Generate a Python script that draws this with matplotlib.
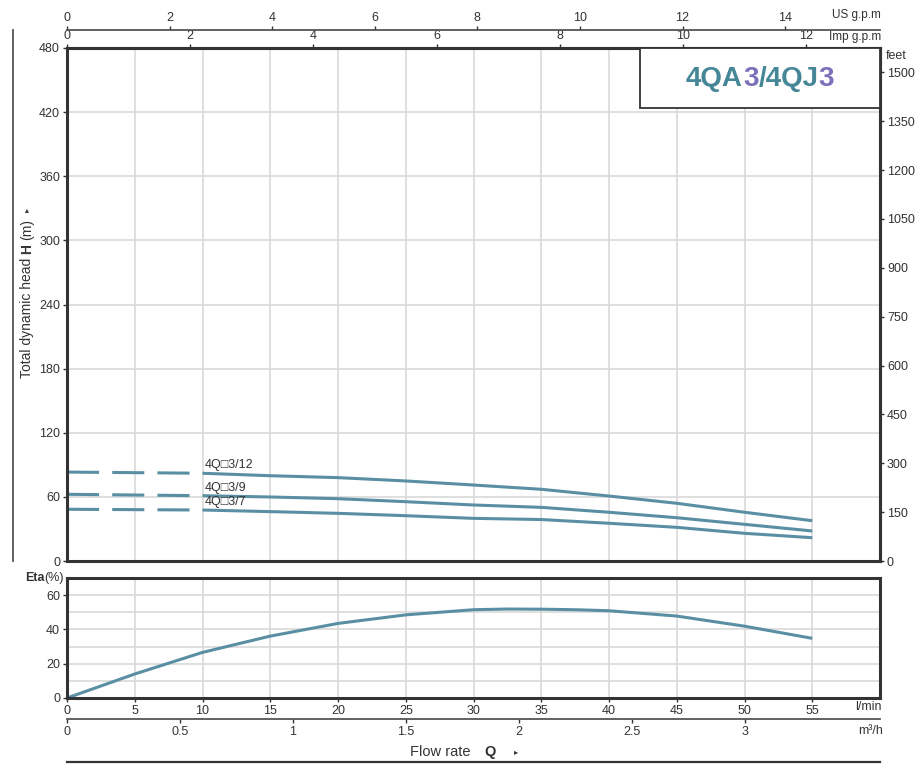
import matplotlib
matplotlib.use("Agg")
import matplotlib.pyplot as plt
from matplotlib.patches import Rectangle
from matplotlib.lines import Line2D
from matplotlib import font_manager as fm

# ---------------- data ----------------
flow_lmin = [10, 15, 20, 25, 30, 35, 40, 45, 50, 55]
head_12 = [82.1, 79.8, 78.0, 74.9, 71.1, 67.1, 60.8, 54.0, 45.6, 37.7]
head_9 = [61.1, 59.9, 58.3, 55.5, 52.4, 50.2, 45.6, 40.5, 34.3, 28.1]
head_7 = [47.7, 46.2, 44.6, 42.4, 39.9, 38.8, 35.3, 31.5, 25.9, 21.8]
dash_flow = [0, 10]
dash_12 = [83.2, 82.1]
dash_9 = [62.4, 61.1]
dash_7 = [48.4, 47.7]
curve_labels = ["4Q\u25a13/12", "4Q\u25a13/9", "4Q\u25a13/7"]

eta_flow = [0, 5, 10, 15, 20, 25, 30, 32.5, 35, 37.5, 40, 45, 50, 55]
eta_vals = [0, 14.0, 26.6, 36.1, 43.5, 48.5, 51.5, 51.9, 51.8, 51.5, 50.9, 47.8, 41.9, 34.8]

head_ticks = [0, 60, 120, 180, 240, 300, 360, 420, 480]
feet_ticks = [0, 150, 300, 450, 600, 750, 900, 1050, 1200, 1350, 1500]
eta_ticks = [0, 20, 40, 60]
lmin_ticks = [0, 5, 10, 15, 20, 25, 30, 35, 40, 45, 50, 55]
m3h_ticks = [0, 0.5, 1, 1.5, 2, 2.5, 3]
m3h_labels = ["0", "0.5", "1", "1.5", "2", "2.5", "3"]
usgpm_ticks = [0, 2, 4, 6, 8, 10, 12, 14]
impgpm_ticks = [0, 2, 4, 6, 8, 10, 12]

# ---------------- style ----------------
names = {f.name for f in fm.fontManager.ttflist}
BASE = "Liberation Sans" if "Liberation Sans" in names else "DejaVu Sans"
plt.rcParams["font.family"] = [BASE, "DejaVu Sans"]
TXT = "#333333"
SPINE = "#333333"
GRID = "#d9d9d9"
CURVE = "#5a8fa3"
TEAL = "#468797"
PURPLE = "#7b70b9"
FS = 9

W, H = 921, 767
fig = plt.figure(figsize=(W / 100, H / 100), dpi=100)

def fx(px):
    return px / W

def fy(py):
    return 1 - py / H

L, R = 67, 880
ax = fig.add_axes([fx(L), fy(561), fx(R - L), fy(48) - fy(561)])
ax2 = fig.add_axes([fx(L), fy(698), fx(R - L), fy(578) - fy(698)])

for a in (ax, ax2):
    for s in a.spines.values():
        s.set_color(SPINE)
        s.set_linewidth(2.2)
    a.set_xlim(0, 60)
    a.tick_params(colors=TXT, labelcolor=TXT, length=3, width=1, labelsize=FS, pad=2)
    a.set_axisbelow(True)

# main head chart
ax.set_ylim(0, 480)
ax.set_yticks(head_ticks)
ax.set_xticks(lmin_ticks)
ax.tick_params(axis="x", bottom=False, labelbottom=False)
ax.grid(True, color=GRID, linewidth=1.2)

for dv, hv in ((dash_12, head_12), (dash_9, head_9), (dash_7, head_7)):
    ax.plot(dash_flow, dv, color=CURVE, lw=2.2, dashes=(10.5, 4.3), dash_capstyle="butt")
    ax.plot(flow_lmin, hv, color=CURVE, lw=2.2, solid_capstyle="butt")

for lab, hv in zip(curve_labels, (head_12, head_9, head_7)):
    ax.text(flow_lmin[0] + 0.15, hv[0] + 1.8, lab, fontsize=FS, color=TXT, ha="left", va="bottom",
            family=[BASE, "DejaVu Sans"])

# title box
ax.add_patch(Rectangle((42.3, 424), 60 - 42.3, 480 - 424, facecolor="white", edgecolor=SPINE, lw=1.3,
                       zorder=5, clip_on=False))
parts = [("4QA", TEAL), ("3", PURPLE), ("/4QJ", TEAL), ("3", PURPLE)]
last = None
for txt, col in parts:
    if last is None:
        last = fig.text(fx(686), fy(79), txt, color=col, fontsize=20, weight="bold",
                        ha="left", va="center", zorder=6)
    else:
        last = ax.annotate(txt, xy=(1, 0.5), xycoords=last, color=col, fontsize=20, weight="bold",
                           ha="left", va="center", zorder=6, annotation_clip=False)

# secondary axes: feet and Imp gpm
m2ft = 1 / 0.3048
sec_r = ax.secondary_yaxis("right", functions=(lambda m: m * m2ft, lambda f: f / m2ft))
sec_r.set_yticks(feet_ticks)
sec_r.tick_params(colors=TXT, labelcolor=TXT, length=3, width=1, labelsize=FS, pad=2)
sec_r.spines["right"].set_color(SPINE)
sec_r.spines["right"].set_linewidth(2.2)
fig.text(fx(886), fy(56), "feet", fontsize=FS, color=TXT, ha="left", va="center")

imp = 4.54609
sec_t = ax.secondary_xaxis("top", functions=(lambda q: q / imp, lambda g: g * imp))
sec_t.set_xticks(impgpm_ticks)
sec_t.tick_params(colors=TXT, labelcolor=TXT, length=3, width=1, labelsize=FS, pad=1)
sec_t.spines["top"].set_color(SPINE)
sec_t.spines["top"].set_linewidth(2.2)
fig.text(fx(881), fy(37), "Imp g.p.m", fontsize=FS - 0.5, color=TXT, ha="right", va="center")

# US gpm axis
usg = 3.785411784
ax_us = fig.add_axes([fx(L), fy(30), fx(R - L), 0.0001])
ax_us.set_xlim(0, 60 / usg)
ax_us.set_yticks([])
for k in ("left", "right", "bottom"):
    ax_us.spines[k].set_visible(False)
ax_us.spines["top"].set_color("#555555")
ax_us.spines["top"].set_linewidth(1.3)
ax_us.patch.set_alpha(0)
ax_us.xaxis.set_ticks_position("top")
ax_us.set_xticks(usgpm_ticks)
ax_us.tick_params(axis="x", colors=TXT, labelcolor=TXT, length=3, width=1, labelsize=FS, pad=1,
                  labelbottom=False, labeltop=True)
fig.text(fx(881), fy(15), "US g.p.m", fontsize=FS - 0.5, color=TXT, ha="right", va="center")

# efficiency chart
ax2.set_ylim(0, 70)
ax2.set_yticks(eta_ticks)
ax2.set_yticks([10, 30, 50, 70], minor=True)
ax2.tick_params(axis="y", which="minor", length=0)
ax2.set_xticks(lmin_ticks)
ax2.grid(True, which="both", color=GRID, linewidth=1.2)
ax2.plot(eta_flow, eta_vals, color=CURVE, lw=2.2, solid_capstyle="butt")
fig.text(fx(882), fy(707), "l/min", fontsize=FS, color=TXT, ha="right", va="center")

t_pct = fig.text(fx(64), fy(578), "(%)", fontsize=FS, color=TXT, ha="right", va="center")
ax2.annotate("Eta", xy=(0, 0.5), xycoords=t_pct, fontsize=FS, color=TXT, weight="bold",
             ha="right", va="center", annotation_clip=False)

# m3/h axis
ax_m3 = fig.add_axes([fx(L), fy(719), fx(R - L), 0.0001])
ax_m3.set_xlim(0, 60 / (1000 / 60))
ax_m3.set_yticks([])
for k in ("left", "right", "top"):
    ax_m3.spines[k].set_visible(False)
ax_m3.spines["bottom"].set_color("#555555")
ax_m3.spines["bottom"].set_linewidth(1.3)
ax_m3.patch.set_alpha(0)
ax_m3.set_xticks(m3h_ticks)
ax_m3.set_xticklabels(m3h_labels)
ax_m3.tick_params(axis="x", colors=TXT, labelcolor=TXT, length=3, width=1, labelsize=FS, pad=2)
fig.text(fx(883), fy(731), "m\u00b3/h", fontsize=FS, color=TXT, ha="right", va="center")

# Flow rate label
t1 = fig.text(fx(410), fy(752), "Flow rate", fontsize=10.5, color=TXT, ha="left", va="center")
t2 = ax2.annotate("Q", xy=(1, 0.5), xycoords=t1, xytext=(10, 0), textcoords="offset points",
                  fontsize=10.5, weight="bold", color=TXT, ha="left", va="center", annotation_clip=False)
ax2.annotate("\u25b8", xy=(1, 0.5), xycoords=t2, xytext=(13, 0), textcoords="offset points",
             fontsize=6, color=TXT, ha="left", va="center", annotation_clip=False,
             family=["DejaVu Sans"])

# y label
y1 = fig.text(fx(27), fy(378), "Total dynamic head", fontsize=10, color=TXT, rotation=90,
              ha="center", va="bottom")
y2 = ax.annotate("H", xy=(0.5, 1), xycoords=y1, xytext=(0, 3), textcoords="offset points",
                 fontsize=10, weight="bold", color=TXT, rotation=90, ha="center", va="bottom",
                 annotation_clip=False)
y3 = ax.annotate("(m)", xy=(0.5, 1), xycoords=y2, xytext=(0, 3), textcoords="offset points",
                 fontsize=10, color=TXT, rotation=90, ha="center", va="bottom", annotation_clip=False)
ax.annotate("\u25b8", xy=(0.5, 1), xycoords=y3, xytext=(0, 5), textcoords="offset points",
            fontsize=6, color=TXT, rotation=90, ha="center", va="bottom", annotation_clip=False,
            family=["DejaVu Sans"])

# decorative lines
fig.add_artist(Line2D([fx(13), fx(13)], [fy(30), fy(561)], color="#555555", lw=1.3))
fig.add_artist(Line2D([fx(L), fx(R)], [fy(762), fy(762)], color=SPINE, lw=1.6))

fig.savefig("out.png", dpi=100)
